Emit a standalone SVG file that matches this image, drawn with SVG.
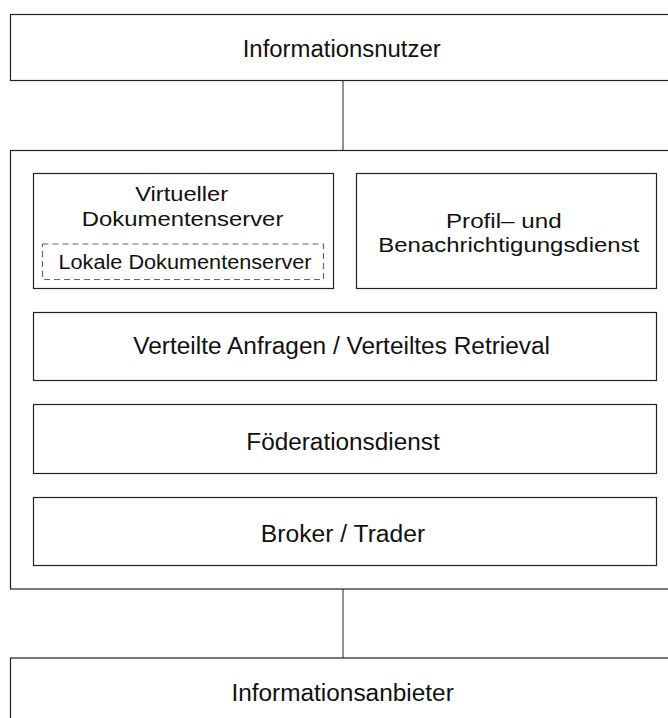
<svg xmlns="http://www.w3.org/2000/svg" width="668" height="718" viewBox="0 0 668 718">
<style>
rect.box{fill:#fff;stroke:#222;stroke-width:1.2}
rect.dash{fill:none;stroke:#666;stroke-width:1.2;stroke-dasharray:6 4}
text{font-family:"Liberation Sans",Arial,sans-serif;font-size:23px;fill:#111;text-anchor:middle}
text.two{font-size:20.5px}
text.small{font-size:20px}
.conn line{stroke:#222;stroke-width:1}
</style>
<rect width="668" height="718" fill="#fff"/>
<g class="conn">
<line x1="343" y1="80.5" x2="343" y2="150.5"/>
<line x1="182.5" y1="288.5" x2="182.5" y2="312.5"/>
<line x1="505.5" y1="288.5" x2="505.5" y2="312.5"/>
<line x1="343" y1="380.5" x2="343" y2="404.5"/>
<line x1="343" y1="473.5" x2="343" y2="497.5"/>
<line x1="343" y1="589" x2="343" y2="658"/>
</g>
<g id="informationsnutzer">
<rect class="box" x="10.5" y="14.5" width="700" height="66"/>
<text x="341.7" y="56.7" textLength="198" lengthAdjust="spacingAndGlyphs">Informationsnutzer</text>
</g>
<g id="container">
<rect class="box" x="10.5" y="150.5" width="700" height="438.5"/>
</g>
<g id="virtueller-dokumentenserver">
<rect class="box" x="33.5" y="173.5" width="300" height="115"/>
<text class="two" x="181.7" y="201" textLength="93" lengthAdjust="spacingAndGlyphs">Virtueller</text>
<text class="two" x="182.6" y="225.5" textLength="201.5" lengthAdjust="spacingAndGlyphs">Dokumentenserver</text>
</g>
<g id="lokale-dokumentenserver">
<rect class="dash" x="42.5" y="244" width="281" height="35.5"/>
<text class="small" x="185" y="268.5" textLength="253" lengthAdjust="spacingAndGlyphs">Lokale Dokumentenserver</text>
</g>
<g id="profil-benachrichtigung">
<rect class="box" x="356.5" y="173.5" width="300" height="115"/>
<text class="two" x="503.8" y="227.5" textLength="115.7" lengthAdjust="spacingAndGlyphs">Profil– und</text>
<text class="two" x="508.8" y="251.5" textLength="261" lengthAdjust="spacingAndGlyphs">Benachrichtigungsdienst</text>
</g>
<g id="verteilte-anfragen">
<rect class="box" x="33.5" y="312.5" width="623" height="68"/>
<text x="341.7" y="354" textLength="416.7" lengthAdjust="spacingAndGlyphs">Verteilte Anfragen / Verteiltes Retrieval</text>
</g>
<g id="foederationsdienst">
<rect class="box" x="33.5" y="404.5" width="623" height="69"/>
<text x="343" y="450" textLength="193.4" lengthAdjust="spacingAndGlyphs">Föderationsdienst</text>
</g>
<g id="broker-trader">
<rect class="box" x="33.5" y="497.5" width="623" height="68"/>
<text x="343" y="542.3" textLength="164.4" lengthAdjust="spacingAndGlyphs">Broker / Trader</text>
</g>
<g id="informationsanbieter">
<rect class="box" x="10.5" y="658" width="700" height="100"/>
<text x="342.6" y="700.7" textLength="222.4" lengthAdjust="spacingAndGlyphs">Informationsanbieter</text>
</g>
</svg>
